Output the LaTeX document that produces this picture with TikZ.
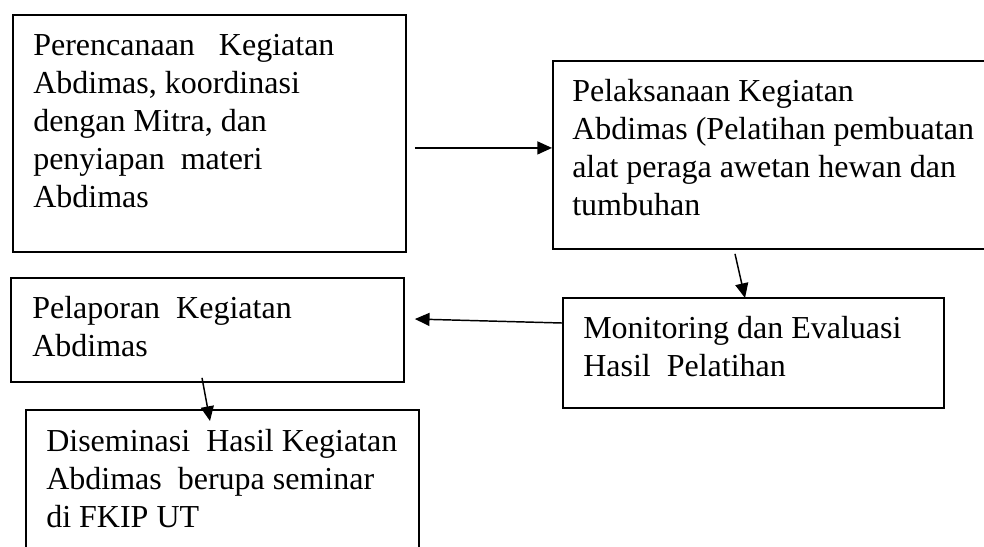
\documentclass[tikz,border=0pt]{standalone}
\usepackage{fontspec}
\setmainfont{Liberation Serif}
\usetikzlibrary{arrows.meta}
\begin{document}
\begin{tikzpicture}[x=0.75pt,y=-0.75pt,
  box/.style={draw, line width=1.4pt, rectangle, inner sep=0pt, anchor=north west},
  txt/.style={anchor=north west, inner sep=0pt, align=left,
    font=\fontsize{24pt}{28.5pt}\selectfont},
  arr/.style={line width=1.1pt, -{Triangle[length=11pt,width=9.75pt]}}]
\useasboundingbox (0,0) rectangle (984,546);
\fill[white] (0,0) rectangle (984,546);
% boxes
\node[box, minimum width=294.75pt, minimum height=177.75pt] (b1) at (12,14) {};
\node[box, minimum width=336pt, minimum height=141pt] (b2) at (552,60) {};
\node[box, minimum width=285.75pt, minimum height=82.5pt] (b3) at (562,297) {};
\node[box, minimum width=294.75pt, minimum height=78pt] (b4) at (10,277) {};
\node[box, minimum width=294.75pt, minimum height=142.5pt] (b5) at (25,409) {};
% texts
\node[txt] (t1) at ([shift={(21,14.4)}]b1.north west)
  {\strut Perencanaan\ \ \ Kegiatan\\ Abdimas, koordinasi\\ dengan Mitra, dan\\ penyiapan\ \ materi\\ Abdimas};
\node[txt] (t2) at ([shift={(20,14.4)}]b2.north west)
  {\strut Pelaksanaan Kegiatan\\ Abdimas (Pelatihan pembuatan\\ alat peraga awetan hewan dan\\ tumbuhan};
\node[txt] (t3) at ([shift={(21,14.4)}]b3.north west)
  {\strut Monitoring dan Evaluasi\\ Hasil\ \ Pelatihan};
\node[txt] (t4) at ([shift={(22,14.4)}]b4.north west)
  {\strut Pelaporan\ \ Kegiatan\\ Abdimas};
\node[txt] (t5) at ([shift={(21,15.4)}]b5.north west)
  {\strut Diseminasi\ \ Hasil Kegiatan\\ Abdimas\ \ berupa seminar\\ di FKIP UT};
% connectors
\draw[arr] ([shift={(8,14.5)}]b1.east) -- ([shift={(0,-7)}]b2.west);
\draw[arr] ([shift={(183,4)}]b2.south west) -- ([shift={(183,1)}]b3.north west);
\draw[arr] ([shift={(0,26)}]b3.north west) -- ([shift={(10,42)}]b4.north east);
\draw[arr] ([shift={(192,-5)}]b4.south west) -- ([shift={(185,12)}]b5.north west);
\end{tikzpicture}
\end{document}
